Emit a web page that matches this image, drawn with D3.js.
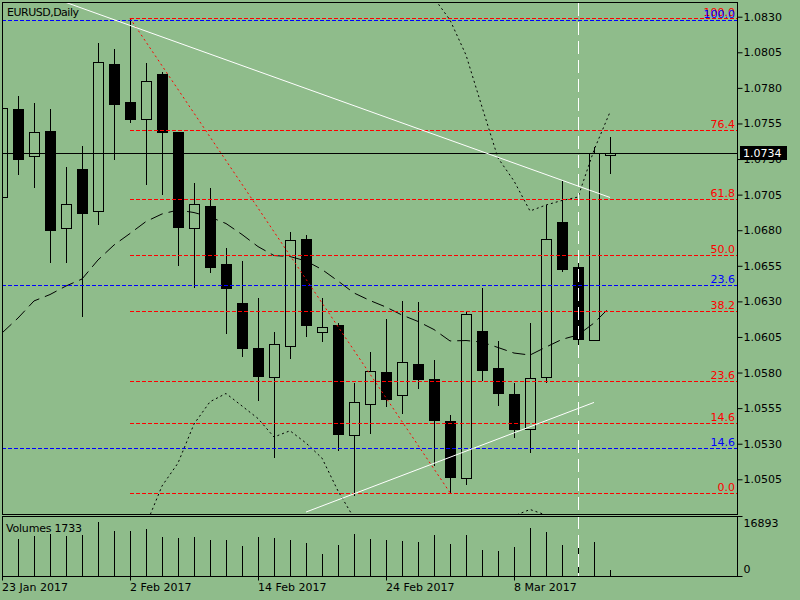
<!DOCTYPE html>
<html><head><meta charset="utf-8">
<script src="https://cdn.jsdelivr.net/npm/d3@7"></script>
<style>
body{margin:0;background:#8FBC8B}
svg{display:block}
text{font-family:"DejaVu Sans",sans-serif;font-size:11px}
</style>
</head><body>
<svg id="c" width="800" height="600"></svg>
<script>
// ---------- DATA ----------
const dates = ["23 Jan","24 Jan","25 Jan","26 Jan","27 Jan","30 Jan","31 Jan","1 Feb","2 Feb","3 Feb",
  "6 Feb","7 Feb","8 Feb","9 Feb","10 Feb","13 Feb","14 Feb","15 Feb","16 Feb","17 Feb",
  "20 Feb","21 Feb","22 Feb","23 Feb","24 Feb","27 Feb","28 Feb","1 Mar","2 Mar","3 Mar",
  "6 Mar","7 Mar","8 Mar","9 Mar","10 Mar","13 Mar","14 Mar","15 Mar","16 Mar"];
const open  = [1.07033,1.07652,1.07319,1.07497,1.06817,1.07230,1.06937,1.07968,1.07701,1.07579,
  1.07897,1.07488,1.06817,1.06970,1.06562,1.06286,1.05972,1.05766,1.05988,1.06738,
  1.06083,1.06132,1.05359,1.05577,1.05802,1.05640,1.05860,1.05755,1.05459,1.05057,
  1.06092,1.05832,1.05649,1.05401,1.05766,1.06855,1.06539,1.06029,1.07326];
const high  = [1.07715,1.07750,1.07701,1.07659,1.07251,1.07399,1.08122,1.08080,1.08289,1.07984,
  1.07918,1.07490,1.07139,1.07101,1.06680,1.06591,1.06329,1.06090,1.06794,1.06773,
  1.06329,1.06153,1.05736,1.05951,1.06183,1.06310,1.06303,1.05895,1.05509,1.06239,
  1.06403,1.06029,1.05736,1.06155,1.06986,1.07153,1.06631,1.07394,1.07462];
const low   = [1.06977,1.07195,1.07106,1.06579,1.06579,1.06199,1.06846,1.07302,1.07558,1.07127,
  1.07056,1.06558,1.06403,1.06506,1.06080,1.05918,1.05607,1.05209,1.05904,1.06059,
  1.06024,1.05258,1.04937,1.05377,1.05567,1.05518,1.05693,1.05150,1.04956,1.05019,
  1.05745,1.05572,1.05349,1.05244,1.05731,1.06515,1.05998,1.06026,1.07200];
const close = [1.07659,1.07302,1.07488,1.06803,1.06984,1.06923,1.07982,1.07689,1.07583,1.07848,
  1.07492,1.06825,1.06984,1.06544,1.06396,1.05974,1.05778,1.05998,1.06729,1.06136,
  1.06118,1.05370,1.05591,1.05809,1.05616,1.05872,1.05757,1.05469,1.05068,1.06209,
  1.05820,1.05658,1.05405,1.05759,1.06736,1.06529,1.06038,1.07340,1.07340];
const volume = [11000,10593,11452,11939,11452,11738,15546,12969,12969,13456,
  11166,10879,11166,10393,10393,8589,11166,10879,10393,9448,
  6299,8875,12025,10679,10393,10021,9734,11738,9162,11738,
  7444,7158,8303,13743,12597,8875,8589,9734,1733];
const maMid = [1.06078,1.06183,1.06303,1.06348,1.06408,1.06457,1.06591,1.06696,1.06777,1.06861,
  1.06914,1.06942,1.06924,1.06893,1.06847,1.06770,1.06685,1.06622,1.06615,1.06584,
  1.06524,1.06443,1.06359,1.06306,1.06260,1.06204,1.06159,1.06102,1.06022,1.06025,
  1.06014,1.05976,1.05937,1.05923,1.05979,1.06033,1.06064,1.06148,1.06260];
const bandUp = [null,null,null,null,null,null,null,null,null,null,
  null,null,null,null,null,null,null,null,null,null,
  null,null,null,null,null,null,1.08628,1.08431,1.08277,1.08031,
  1.07666,1.07307,1.07146,1.06935,1.06977,1.07009,1.07033,1.07363,1.07630];
const bandLow = [null,null,null,null,null,null,null,null,1.04483,1.04729,
  1.05003,1.05164,1.05438,1.05595,1.05653,1.05565,1.05477,1.05347,1.05391,1.05305,
  1.05199,1.04968,1.04778,1.04658,1.04588,1.04553,1.04588,1.04637,1.04694,1.04729,
  1.04750,1.04736,1.04792,1.04838,1.04799,1.04658,1.04553,1.04342,1.04202];

const priceTicks = [1.0830,1.0805,1.0780,1.0755,1.0730,1.0705,1.0680,1.0655,1.0630,1.0605,1.0580,1.0555,1.0530,1.0505];
const dateTickIdx = [0,8,16,24,32];
const dateTickLabels = ["23 Jan 2017","2 Feb 2017","14 Feb 2017","24 Feb 2017","8 Mar 2017"];
const volTicks = [0,16893];

const fibRatios = [0.0,14.6,23.6,38.2,50.0,61.8,76.4,100.0];
const fibLow  = {i:28, p:1.04956};
const fibHigh = {i:8,  p:1.08289};
const blueLabels = ["100.0","23.6","14.6"];
const bluePrices = [1.08275,1.06413,1.05267];
const whiteLine1 = [{i:4,p:1.0840},{i:38,p:1.0703}];
const whiteLine2 = [{i:19,p:1.0482},{i:37,p:1.0559}];
const currentPrice = 1.0734;
const lastVolume = 1733;
const markerIdx = 36;
const symbolTitle = "EURUSD,Daily";

// ---------- LAYOUT ----------
const BG = "#8FBC8B";
const L = 2, R = 737, T = 2, B = 514, VT = 516, VB = 576;
const svg = d3.select("#c");
svg.append("rect").attr("width",800).attr("height",600).attr("fill",BG);

const x = d3.scaleLinear().domain([0,38]).range([2,610]);
const y = d3.scaleLinear().domain([1.0505,1.0830]).range([479.3,16.7]);
const yv = d3.scaleLinear().domain([0,16893]).range([576,517]);
const px = v => Math.round(v) + 0.5;

const defs = svg.append("defs");
defs.append("clipPath").attr("id","cm").append("rect").attr("x",L+1).attr("y",T+1).attr("width",R-L-1).attr("height",B-T-1);
defs.append("clipPath").attr("id","cv").append("rect").attr("x",L+1).attr("y",VT+1).attr("width",R-L-1).attr("height",VB-VT-1);

const main = svg.append("g").attr("clip-path","url(#cm)");
const idx = d3.range(dates.length);

// candles
const cg = main.append("g").attr("shape-rendering","crispEdges");
idx.forEach(i=>{
  const cx = Math.round(x(i));
  cg.append("line").attr("x1",cx+0.5).attr("x2",cx+0.5)
    .attr("y1",px(y(high[i]))).attr("y2",px(y(low[i]))).attr("stroke","#000");
  const top = Math.round(y(Math.max(open[i],close[i])));
  const bot = Math.round(y(Math.min(open[i],close[i])));
  const bull = close[i] >= open[i];
  cg.append("rect").attr("x",cx-4.5).attr("y",top+0.5).attr("width",10).attr("height",Math.max(bot-top,1))
    .attr("fill", bull ? BG : "#000").attr("stroke","#000");
});

// current price line
main.append("line").attr("x1",L).attr("x2",R).attr("y1",px(y(currentPrice))).attr("y2",px(y(currentPrice)))
  .attr("stroke","#000").attr("shape-rendering","crispEdges");

// indicators
const lineGen = d3.line().defined(d=>d.v!=null).x(d=>x(d.i)).y(d=>y(d.v));
main.append("path").datum(idx.map(i=>({i,v:maMid[i]}))).attr("d",lineGen)
  .attr("fill","none").attr("stroke","#000").attr("stroke-dasharray","13,6");
main.append("path").datum(idx.map(i=>({i,v:bandUp[i]}))).attr("d",lineGen)
  .attr("fill","none").attr("stroke","#000").attr("stroke-dasharray","2,3");
main.append("path").datum(idx.map(i=>({i,v:bandLow[i]}))).attr("d",lineGen)
  .attr("fill","none").attr("stroke","#000").attr("stroke-dasharray","2,3");

// fibonacci (red)
const fg = main.append("g").attr("shape-rendering","crispEdges");
fibRatios.forEach(r=>{
  const p = fibLow.p + r/100*(fibHigh.p - fibLow.p);
  fg.append("line").attr("x1",x(fibHigh.i)).attr("x2",R).attr("y1",px(y(p))).attr("y2",px(y(p)))
    .attr("stroke","#FF0000").attr("stroke-dasharray","4,2");
});
// blue levels
bluePrices.forEach(p=>{
  fg.append("line").attr("x1",L).attr("x2",R).attr("y1",px(y(p))).attr("y2",px(y(p)))
    .attr("stroke","#0000FF").attr("stroke-dasharray","4,2");
});
// fib trend line (red dotted)
main.append("line").attr("x1",x(fibHigh.i)).attr("y1",y(fibHigh.p)).attr("x2",x(fibLow.i)).attr("y2",y(fibLow.p))
  .attr("stroke","#FF0000").attr("stroke-dasharray","2,3");

// white trend lines
function extLine(a,b){
  const k=(b.p-a.p)/(b.i-a.i);
  return [{i:-5,p:a.p+k*(-5-a.i)},{i:b.i,p:b.p}];
}
[whiteLine1, whiteLine2].forEach((ln,j)=>{
  const pts = j===0 ? extLine(ln[0],ln[1]) : ln;
  main.append("line").attr("x1",x(pts[0].i)).attr("y1",y(pts[0].p)).attr("x2",x(pts[1].i)).attr("y2",y(pts[1].p))
    .attr("stroke","#fff").attr("stroke-width",1);
});

// fib labels
const lg = svg.append("g").attr("text-anchor","end");
fibRatios.forEach(r=>{
  const p = fibLow.p + r/100*(fibHigh.p - fibLow.p);
  lg.append("text").attr("x",735).attr("y",Math.round(y(p))-2).attr("fill","#FF0000").text(r.toFixed(1));
});
bluePrices.forEach((p,k)=>{
  lg.append("text").attr("x",735).attr("y",Math.round(y(p))-2).attr("fill","#0000FF").text(blueLabels[k]);
});

// ---------- VOLUME PANEL ----------
const vg = svg.append("g").attr("clip-path","url(#cv)").attr("shape-rendering","crispEdges");
idx.forEach(i=>{
  const cx = Math.round(x(i));
  vg.append("line").attr("x1",cx+0.5).attr("x2",cx+0.5).attr("y1",yv(0)).attr("y2",Math.round(yv(volume[i]))).attr("stroke","#000");
});

// vertical marker line
svg.append("line").attr("x1",Math.round(x(markerIdx))+0.5).attr("x2",Math.round(x(markerIdx))+0.5)
  .attr("y1",T+1).attr("y2",VB).attr("stroke","#fff").attr("stroke-dasharray","13,6").attr("shape-rendering","crispEdges");

// frames
const fr = svg.append("g").attr("fill","none").attr("stroke","#000").attr("shape-rendering","crispEdges");
fr.append("rect").attr("x",L+0.5).attr("y",T+0.5).attr("width",R-L).attr("height",B-T);
fr.append("rect").attr("x",L+0.5).attr("y",VT+0.5).attr("width",R-L).attr("height",VB-VT);

// ---------- AXES ----------
const ya = svg.append("g").attr("transform",`translate(${R+0.5},0)`)
  .call(d3.axisRight(y).tickValues(priceTicks).tickSize(5).tickPadding(1).tickFormat(d3.format(".4f")));
ya.select(".domain").remove();
ya.selectAll("text").attr("font-size",11).attr("font-family","DejaVu Sans").attr("fill","#000");
ya.selectAll("line").attr("stroke","#000");

// volume axis
const va = svg.append("g").attr("transform",`translate(${R+0.5},0)`);
va.append("line").attr("x1",0).attr("x2",5).attr("y1",VT+0.5).attr("y2",VT+0.5).attr("stroke","#000");
va.append("line").attr("x1",0).attr("x2",5).attr("y1",VB+0.5).attr("y2",VB+0.5).attr("stroke","#000");
va.append("text").attr("x",6).attr("y",527).text(volTicks[1]);
va.append("text").attr("x",6).attr("y",573).text(volTicks[0]);

// time axis
const xa = svg.append("g").attr("transform",`translate(0,${VB+0.5})`)
  .call(d3.axisBottom(x).tickValues(dateTickIdx).tickSize(4).tickPadding(3).tickFormat((d,k)=>dateTickLabels[k]));
xa.select(".domain").remove();
xa.selectAll("text").attr("text-anchor","start").attr("font-size",11).attr("font-family","DejaVu Sans").attr("fill","#000").attr("dx",-0.5);
xa.selectAll("line").attr("stroke","#000");

// current price tag
const cpY = Math.round(y(currentPrice));
svg.append("rect").attr("x",740).attr("y",cpY-7).attr("width",47).attr("height",14).attr("fill","#000");
svg.append("text").attr("x",743).attr("y",cpY+4).attr("fill","#fff").text(currentPrice.toFixed(4));

// titles
svg.append("text").attr("x",7).attr("y",16).attr("letter-spacing","-0.5").text(symbolTitle);
svg.append("text").attr("x",6).attr("y",532).attr("letter-spacing","-0.2").text("Volumes " + lastVolume);
</script>
</body></html>
